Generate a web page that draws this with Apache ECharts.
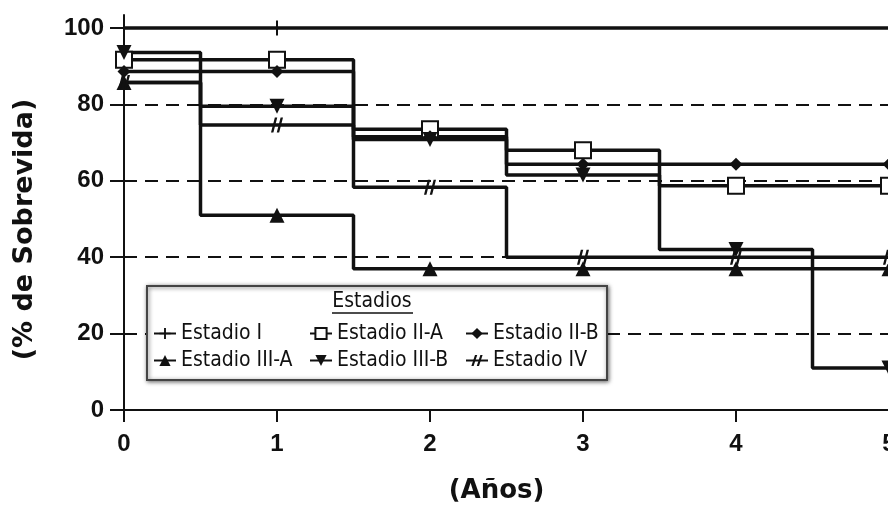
<!DOCTYPE html>
<html>
<head>
<meta charset="utf-8">
<script src="https://cdn.jsdelivr.net/npm/echarts@6/dist/echarts.min.js"></script>
<style>
html,body{margin:0;padding:0;background:#fff;}
#chart{width:888px;height:510px;}
</style>
</head>
<body>
<div id="chart"></div>
<script>
// ---- data ----
var years = [0, 1, 2, 3, 4, 5];
var yTicks = [0, 20, 40, 60, 80, 100];
var refLines = [20, 40, 60, 80];
var seriesNames = ['Estadio I', 'Estadio II-A', 'Estadio II-B', 'Estadio III-A', 'Estadio III-B', 'Estadio IV'];
var estadioI   = [100, 100, 100, 100, 100, 100];
var estadioIIA = [91.7, 91.7, 73.5, 68, 58.7, 58.7];
var estadioIIB = [88.6, 88.6, 71.5, 64.3, 64.3, 64.3];
var estadioIIIA = [85.7, 51, 37, 37, 37, 37];
var estadioIIIB = [93.6, 79.5, 70.8, 61.5, 42, 11];
var estadioIV  = [85.7, 74.6, 58.3, 40, 40, 40];
var estadioIMarked = [true, true, false, false, false, false];
// ---- end data ----

var BLACK = '#111';
var tickFont = 'Liberation Sans, Arial, sans-serif';
var nameFont = 'DejaVu Sans, Liberation Sans, sans-serif';
var legendFont = 'Liberation Sans Narrow, DejaVu Sans Condensed, Liberation Sans, sans-serif';

function pairs(vals) {
  return years.map(function (x, i) { return [x, vals[i]]; });
}

var plusPath = 'path://M5,0 L7,0 L7,14 L5,14 Z M0,6 L12,6 L12,8 L0,8 Z';
var hashPath = 'path://M4,0 L6.5,0 L2.5,15 L0,15 Z M10,0 L12.5,0 L8.5,15 L6,15 Z';

function mkSeries(name, vals, symbol, size, extra) {
  var s = {
    name: name,
    type: 'line',
    step: 'middle',
    data: pairs(vals),
    symbol: symbol,
    symbolSize: size,
    showAllSymbol: true,
    lineStyle: { color: BLACK, width: 3.5 },
    itemStyle: { color: BLACK, borderWidth: 0 },
    emphasis: { disabled: true },
    animation: false,
    z: 2
  };
  if (extra) { for (var k in extra) s[k] = extra[k]; }
  return s;
}

var sI = mkSeries(seriesNames[0], estadioI, plusPath, [12, 15]);
sI.data = years.map(function (x, i) {
  var d = { value: [x, estadioI[i]] };
  if (!estadioIMarked[i]) d.symbol = 'none';
  return d;
});
sI.markLine = {
  silent: true,
  symbol: 'none',
  z: 1,
  label: { show: false },
  lineStyle: { color: BLACK, width: 2, type: [13, 8] },
  emphasis: { disabled: true },
  data: refLines.map(function (v) { return { yAxis: v }; })
};

var sIIA = mkSeries(seriesNames[1], estadioIIA, 'rect', 16, {
  itemStyle: { color: '#fff', borderColor: BLACK, borderWidth: 2 }
});
var sIIB = mkSeries(seriesNames[2], estadioIIB, 'diamond', 13);
var sIIIA = mkSeries(seriesNames[3], estadioIIIA, 'triangle', 15);
var sIIIB = mkSeries(seriesNames[4], estadioIIIB, 'triangle', 15, { symbolRotate: 180 });
var sIV = mkSeries(seriesNames[5], estadioIV, hashPath, [12, 15]);

var chart = echarts.init(document.getElementById('chart'), null, { renderer: 'canvas' });
chart.setOption({
  animation: false,
  backgroundColor: '#fff',
  grid: { left: 124, right: -1, top: 15, bottom: 100, containLabel: false, outerBoundsMode: 'none' },
  xAxis: {
    type: 'value',
    min: 0, max: 5, interval: 1,
    name: '(Años)',
    nameLocation: 'middle',
    nameGap: 68,
    nameTextStyle: { fontFamily: nameFont, fontWeight: 'bold', fontSize: 26, color: BLACK, padding: [0, 20, 0, 0] },
    axisLine: { show: true, lineStyle: { color: BLACK, width: 2 } },
    axisTick: { show: true, length: 12, lineStyle: { color: BLACK, width: 2 } },
    axisLabel: { margin: 22, fontFamily: tickFont, fontWeight: 'bold', fontSize: 24, color: BLACK },
    splitLine: { show: false }
  },
  yAxis: [{
    type: 'value',
    min: 0, max: 103.4, interval: 20,
    name: '(% de Sobrevida)',
    nameLocation: 'middle',
    nameGap: 86,
    nameTextStyle: { fontFamily: nameFont, fontWeight: 'bold', fontSize: 27, color: BLACK, padding: [0, 34, 0, 0] },
    axisLine: { show: true, onZero: false, lineStyle: { color: BLACK, width: 2 } },
    axisTick: { show: true, length: 14, customValues: yTicks, lineStyle: { color: BLACK, width: 2 } },
    axisLabel: { margin: 20, customValues: yTicks, fontFamily: tickFont, fontWeight: 'bold', fontSize: 24, color: BLACK },
    splitLine: { show: false }
  }, {
    type: 'value',
    position: 'left',
    min: 0, max: 103.4, interval: 20,
    axisLine: { show: false },
    axisTick: { show: true, inside: true, length: 6, customValues: yTicks, lineStyle: { color: BLACK, width: 2 } },
    axisLabel: { show: false },
    splitLine: { show: false }
  }],
  legend: {
    data: seriesNames,
    left: 153,
    top: 323,
    width: 470,
    orient: 'horizontal',
    itemWidth: 22,
    itemHeight: 14,
    itemGap: 6,
    selectedMode: false,
    padding: 0,
    z: 6,
    textStyle: { fontFamily: legendFont, fontSize: 21, color: BLACK, width: 122, lineHeight: 20 }
  },
  graphic: [
    {
      type: 'rect', z: 3, silent: true,
      shape: { x: 147, y: 286, width: 460, height: 94 },
      style: { fill: '#fff', stroke: '#444', lineWidth: 2, shadowBlur: 4, shadowColor: 'rgba(0,0,0,0.55)', shadowOffsetX: 1, shadowOffsetY: 1 }
    },
    {
      type: 'text', z: 5, silent: true,
      x: 372, y: 302,
      style: { text: 'Estadios', fill: BLACK, font: '21px ' + legendFont, textAlign: 'center', textVerticalAlign: 'middle' }
    },
    {
      type: 'line', z: 5, silent: true,
      shape: { x1: 332, y1: 313, x2: 413, y2: 313 },
      style: { stroke: BLACK, lineWidth: 1.5 }
    }
  ],
  series: [sI, sIIA, sIIB, sIIIA, sIIIB, sIV]
});
</script>
</body>
</html>
